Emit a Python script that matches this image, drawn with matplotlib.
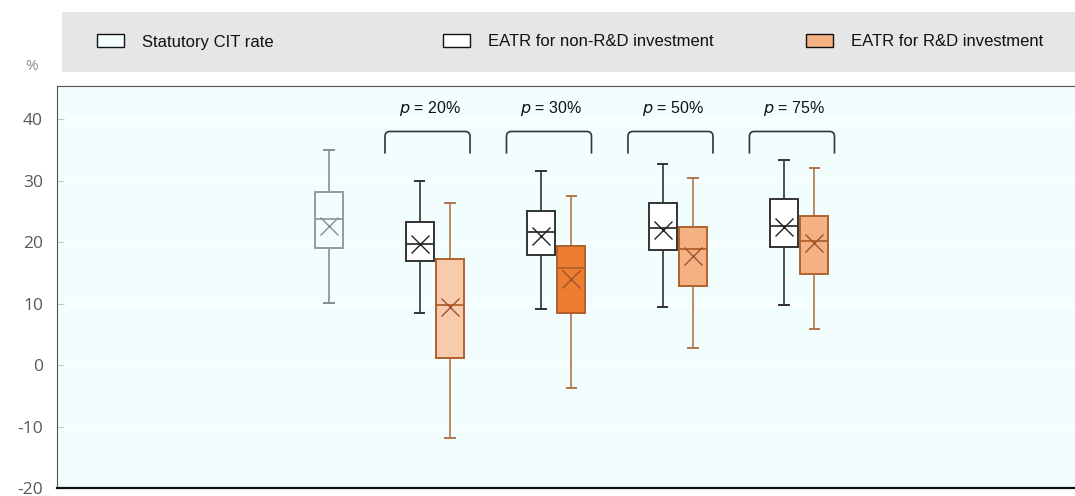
import matplotlib
matplotlib.use("Agg")
import matplotlib.pyplot as plt
from matplotlib.patches import Rectangle
from matplotlib.path import Path
from matplotlib.patches import PathPatch

plt.rcParams["axes.unicode_minus"] = False

# box statistics (%)
box_names = ["Statutory CIT rate",
             "p20 non-R&D", "p20 R&D",
             "p30 non-R&D", "p30 R&D",
             "p50 non-R&D", "p50 R&D",
             "p75 non-R&D", "p75 R&D"]
whis_hi = [35.0, 30.0, 26.3, 31.6, 27.5, 32.7, 30.5, 33.3, 32.0]
q3 = [28.1, 23.2, 17.3, 25.1, 19.4, 26.4, 22.4, 27.0, 24.2]
median = [23.7, 19.7, 9.8, 21.6, 15.8, 22.3, 18.9, 22.7, 20.2]
mean = [22.7, 19.7, 9.5, 21.0, 14.0, 22.0, 17.8, 22.4, 19.8]
q1 = [19.1, 17.0, 1.1, 17.9, 8.5, 18.8, 12.9, 19.2, 14.8]
whis_lo = [10.1, 8.5, -11.9, 9.2, -3.8, 9.5, 2.7, 9.7, 5.8]

group_labels = ["20%", "30%", "50%", "75%"]
legend_labels = ["Statutory CIT rate", "EATR for non-R&D investment", "EATR for R&D investment"]
y_ticks = [-20, -10, 0, 10, 20, 30, 40]

# layout
positions = [0.13, 0.875, 1.125, 1.875, 2.125, 2.875, 3.125, 3.875, 4.125]
fills = ["#F2FEFE", "white", "#F8CBAD", "white", "#ED7D31", "white", "#F4B183", "white", "#F4B183"]
edges = ["#999999", "#333333", "#B0622C", "#333333", "#B0622C", "#333333", "#B0622C", "#333333", "#B0622C"]
whisk = ["#8C8C8C", "#333333", "#B0764F", "#333333", "#B0764F", "#333333", "#B0764F", "#333333", "#B0764F"]
means_c = ["#8C8C8C", "#222222", "#A0522D", "#222222", "#A0522D", "#222222", "#A0522D", "#222222", "#A0522D"]
narrow = ["Liberation Sans", "DejaVu Sans"]

fig = plt.figure(figsize=(10.75, 4.96), dpi=100)
ax = fig.add_axes([57 / 1075, 8 / 496, 1 - 57 / 1075, 402 / 496])
ax.set_facecolor("#F2FEFE")

stats = []
for i in range(len(box_names)):
    stats.append(dict(label=box_names[i], whishi=whis_hi[i], q3=q3[i], med=median[i],
                      mean=mean[i], q1=q1[i], whislo=whis_lo[i], fliers=[]))

art = ax.bxp(stats, positions=positions, widths=0.23, showmeans=True, patch_artist=True,
             capwidths=0.08, manage_ticks=False)
for i, b in enumerate(art["boxes"]):
    b.set_facecolor(fills[i])
    b.set_edgecolor(edges[i])
    b.set_linewidth(1.4)
    b.set_zorder(3)
for i, m in enumerate(art["medians"]):
    m.set_color(edges[i])
    m.set_linewidth(1.3)
    m.set_zorder(4)
for i in range(len(box_names)):
    for k in (2 * i, 2 * i + 1):
        art["whiskers"][k].set_color(whisk[i])
        art["whiskers"][k].set_linewidth(1.2)
        art["caps"][k].set_color(whisk[i])
        art["caps"][k].set_linewidth(1.4)
    mk = art["means"][i]
    mk.set_marker("x")
    mk.set_markersize(13)
    mk.set_markeredgewidth(1.0)
    mk.set_markeredgecolor(means_c[i])
    mk.set_zorder(5)

# brackets and p labels
for g, lab in enumerate(group_labels):
    c = g + 1 - 0.06
    x0, x1 = c - 0.35, c + 0.35
    verts = [(x0, 34.4), (x0, 37.2), (x0, 38.0), (x0 + 0.04, 38.0),
             (x1 - 0.04, 38.0), (x1, 38.0), (x1, 37.2), (x1, 34.4)]
    codes = [Path.MOVETO, Path.LINETO, Path.CURVE3, Path.CURVE3,
             Path.LINETO, Path.CURVE3, Path.CURVE3, Path.LINETO]
    ax.add_patch(PathPatch(Path(verts, codes), fill=False, edgecolor="#333333", lw=1.2))
    ax.text(c + 0.02, 41.8, "$\\it{p}$ = " + lab, ha="center", va="center", fontsize=11.5,
            family=narrow, color="#111111")

ax.set_xlim(-2.11, 6.27)
ax.set_ylim(-20, 45.4)
ax.set_yticks(y_ticks)
ax.set_xticks([])
ax.tick_params(axis="y", direction="in", length=5, color="#C8C8C8", labelcolor="#595959",
               labelsize=12.5, pad=10)
for t in ax.get_yticklabels():
    t.set_family(["Open Sans", "DejaVu Sans"])
ax.yaxis.grid(True, color="white", lw=1.0)
ax.set_axisbelow(True)
ax.spines["right"].set_visible(False)
ax.spines["left"].set_color("#555555")
ax.spines["top"].set_color("#555555")
ax.spines["bottom"].set_color("#111111")
ax.spines["bottom"].set_linewidth(1.6)

fig.text(32 / 1075, 1 - 66 / 496, "%", ha="center", va="center", color="#8C8C8C", fontsize=11,
         family=["Open Sans", "DejaVu Sans"])

# legend band
fig.patches.append(Rectangle((62 / 1075, 1 - 72 / 496), 1 - 62 / 1075, 60 / 496,
                             transform=fig.transFigure, facecolor="#E6E6E6", edgecolor="none"))
leg_x = [97, 443, 806]
leg_fill = ["#F2FEFE", "white", "#F4B183"]
for i, lab in enumerate(legend_labels):
    fig.patches.append(Rectangle((leg_x[i] / 1075, 1 - 47 / 496), 27 / 1075, 13 / 496,
                                 transform=fig.transFigure, facecolor=leg_fill[i],
                                 edgecolor="#111111", lw=1.0))
    fig.text((leg_x[i] + 45) / 1075, 1 - 42 / 496, lab, ha="left", va="center", fontsize=12,
             family=narrow, color="#111111")

fig.savefig("out.png", dpi=100)
